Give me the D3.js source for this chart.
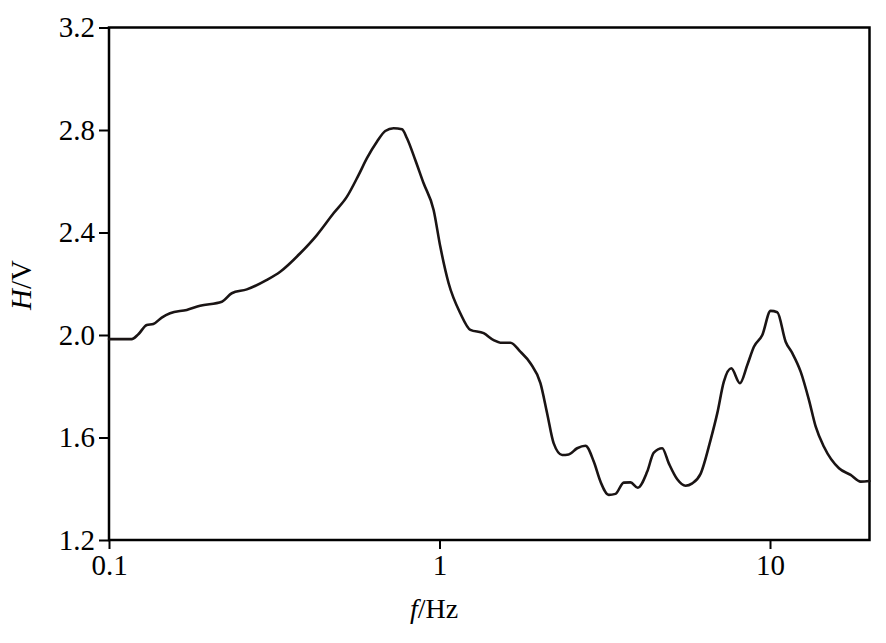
<!DOCTYPE html>
<html><head><meta charset="utf-8">
<script src="https://cdn.jsdelivr.net/npm/d3@7"></script>
<style>body{margin:0;background:#fff}svg{display:block}</style>
</head><body>
<svg id="c" width="886" height="643"></svg>
<script>
const freq = [0.1,0.1171,0.1227,0.1301,0.1362,0.1444,0.1530,0.1719,0.1886,0.2195,0.2352,0.2612,0.3004,0.3296,0.3789,0.4256,0.4779,0.5248,0.5689,0.6032,0.6466,0.6852,0.7261,0.7698,0.7972,0.8447,0.8952,0.9598,1.0055,1.0656,1.156,1.240,1.360,1.458,1.528,1.639,1.756,1.884,2.020,2.117,2.216,2.350,2.460,2.609,2.764,2.929,3.069,3.252,3.407,3.610,3.783,3.981,4.251,4.451,4.719,4.941,5.240,5.552,5.818,6.164,6.608,6.924,7.250,7.634,8.108,8.537,8.940,9.478,10.04,10.52,11.15,11.68,12.38,13.12,13.75,14.56,16.17,17.54,18.81,20.0];
const hv = [1.984,1.984,2.003,2.039,2.043,2.068,2.085,2.098,2.114,2.130,2.163,2.178,2.215,2.247,2.319,2.390,2.475,2.540,2.624,2.690,2.754,2.796,2.807,2.803,2.768,2.683,2.592,2.488,2.345,2.202,2.085,2.020,2.007,1.980,1.970,1.970,1.935,1.890,1.812,1.694,1.577,1.532,1.534,1.558,1.568,1.506,1.428,1.376,1.380,1.424,1.425,1.404,1.467,1.541,1.558,1.499,1.437,1.412,1.421,1.458,1.590,1.694,1.818,1.870,1.812,1.883,1.954,2.000,2.094,2.089,1.974,1.929,1.857,1.746,1.642,1.564,1.480,1.454,1.428,1.430];
const xTicks = [0.1, 1, 10];
const xTickLabels = ["0.1", "1", "10"];
const yTicks = [1.2, 1.6, 2.0, 2.4, 2.8, 3.2];
const yTickLabels = ["1.2", "1.6", "2.0", "2.4", "2.8", "3.2"];

const L = 109, R = 869.5, T = 27.5, B = 540;
const svg = d3.select("#c");
const x = d3.scaleLog().domain([0.1, 20]).range([L, R]);
const y = d3.scaleLinear().domain([1.2, 3.2]).range([B, T]);
const font = "'Liberation Serif', 'Times New Roman', serif";

const xAxis = svg.append("g").attr("transform", `translate(0,${B})`)
  .call(d3.axisBottom(x).tickValues(xTicks).tickFormat((d,i)=>xTickLabels[i]).tickSize(9).tickPadding(5));
const yAxis = svg.append("g").attr("transform", `translate(${L},0)`)
  .call(d3.axisLeft(y).tickValues(yTicks).tickFormat((d,i)=>yTickLabels[i]).tickSize(10).tickPadding(4));
[xAxis, yAxis].forEach(g => {
  g.select(".domain").remove();
  g.attr("font-family", null).attr("font-size", null);
  g.selectAll(".tick line").attr("stroke", "#000").attr("stroke-width", 2);
  g.selectAll(".tick text").attr("fill", "#000").attr("font-family", font).attr("font-size", 29);
});

svg.append("rect").attr("x", L).attr("y", T).attr("width", R - L).attr("height", B - T)
  .attr("fill", "none").attr("stroke", "#000").attr("stroke-width", 2.5);

const pts = freq.map((f, i) => [f, hv[i]]);
svg.append("path").datum(pts)
  .attr("fill", "none").attr("stroke", "#1a1414").attr("stroke-width", 2.6)
  .attr("stroke-linejoin", "round").attr("stroke-linecap", "round")
  .attr("d", d3.line().x(d => x(d[0])).y(d => y(d[1])).curve(d3.curveMonotoneX));

const xl = svg.append("text").attr("x", 434).attr("y", 618).attr("text-anchor", "middle")
  .attr("font-family", font).attr("font-size", 28).attr("fill", "#000");
xl.append("tspan").attr("font-style", "italic").text("f");
xl.append("tspan").text("/Hz");

const yl = svg.append("text").attr("transform", `translate(31,285) rotate(-90)`).attr("text-anchor", "middle")
  .attr("font-family", font).attr("font-size", 29).attr("fill", "#000");
yl.append("tspan").attr("font-style", "italic").text("H");
yl.append("tspan").text("/V");
</script>
</body></html>
